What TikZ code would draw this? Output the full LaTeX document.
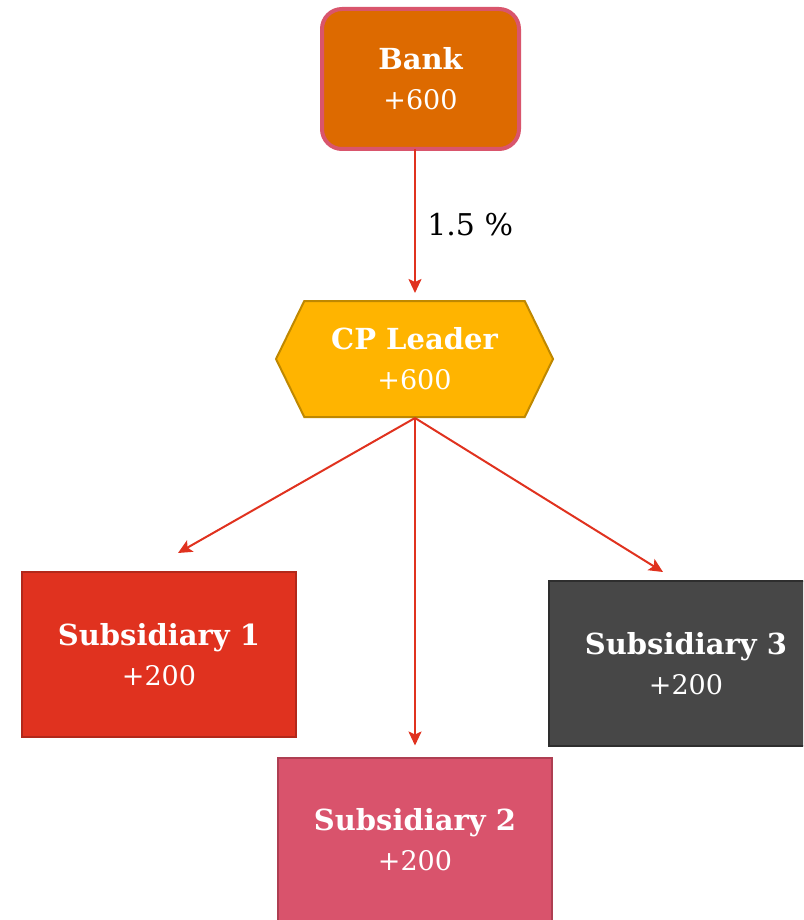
\documentclass[tikz,border=0pt]{standalone}
\usepackage{fontspec}
\setmainfont{DejaVu Serif}
\usetikzlibrary{shapes.symbols,arrows.meta}
\definecolor{bankfill}{HTML}{DD6A00}
\definecolor{bankline}{HTML}{D9556C}
\definecolor{cpfill}{HTML}{FFB400}
\definecolor{cpline}{HTML}{BF8800}
\definecolor{subafill}{HTML}{E0321F}
\definecolor{subaline}{HTML}{B2281A}
\definecolor{subbfill}{HTML}{D9536C}
\definecolor{subbline}{HTML}{AE3F52}
\definecolor{subcfill}{HTML}{474747}
\definecolor{subcline}{HTML}{2E2E2E}
\definecolor{arrowred}{HTML}{E0321F}
\tikzset{
  box/.style={rectangle, inner sep=0pt, outer sep=0pt, text=white, align=center,
    font=\fontsize{29}{40}\selectfont, minimum width=274pt, minimum height=165pt, line width=2pt},
  conn/.style={draw=arrowred, line width=2pt, -{Stealth[length=14pt,width=13pt,inset=3pt]}}
}
\newcommand{\numline}[1]{{\fontsize{27}{40}\selectfont #1}}
\begin{document}
\begin{tikzpicture}[x=1pt,y=-1pt]
\useasboundingbox (0,0) rectangle (803,920);
\clip (0,0) rectangle (803,920);
\node[box, draw=bankline, fill=bankfill, line width=4pt, rounded corners=20pt,
  minimum width=197pt, minimum height=140pt] (bank) at (420.5,79) {\bfseries Bank\\\numline{+600}};
\node[box, shape=signal, signal to=west and east, signal pointer angle=128,
  draw=cpline, fill=cpfill, minimum width=277pt, minimum height=116pt] (cp) at (414.5,359) {\bfseries CP Leader\\\numline{+600}};
\node[box, draw=subaline, fill=subafill] (s1) at (159,654.5) {\bfseries Subsidiary 1\\\numline{+200}};
\node[box, draw=subcline, fill=subcfill] (s3) at (686,663.5) {\bfseries Subsidiary 3\\\numline{+200}};
\node[box, draw=subbline, fill=subbfill] (s2) at (415,840) {\bfseries Subsidiary 2\\\numline{+200}};
\coordinate (e1) at (178,553);
\coordinate (e3) at (663,572);
\coordinate (cpb) at (415,418);
\draw[conn, shorten >=8pt] (bank.south -| cpb) -- (cp.north -| cpb) node[midway, right=8pt, text=black, font=\fontsize{30}{30}\selectfont] (lbl) {1.5 \%};
\draw[conn] (cpb) -- (e1);
\draw[conn, shorten >=12pt] (cpb) -- (cpb |- s2.north);
\draw[conn] (cpb) -- (e3);
\end{tikzpicture}
\end{document}
